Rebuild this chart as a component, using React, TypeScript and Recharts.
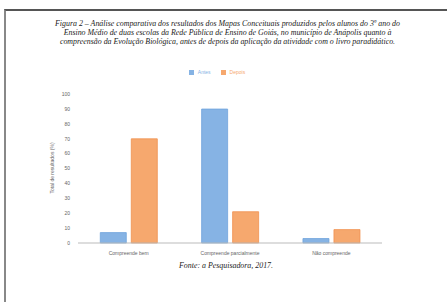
import React from 'react';
import { BarChart, Bar, XAxis, YAxis, Legend } from 'recharts';

const categories = ['Compreende bem', 'Compreende parcialmente', 'Não compreende'];
const antes = [7, 90, 3];
const depois = [70, 21, 9];
const yTicks = [0, 10, 20, 30, 40, 50, 60, 70, 80, 90, 100];
const titleLines = [
  'Figura 2 – Análise comparativa dos resultados dos Mapas Conceituais produzidos pelos alunos do 3º ano do',
  'Ensino Médio de duas escolas da Rede Pública de Ensino de Goiás, no município de Anápolis quanto à',
  'compreensão da Evolução Biológica, antes de depois da aplicação da atividade com o livro paradidático.',
];
const sourceText = 'Fonte: a Pesquisadora, 2017.';
const yLabel = 'Total de resultados (%)';

const data = categories.map((c, i) => ({ name: c, Antes: antes[i], Depois: depois[i] }));

export default function App() {
  return (
    <div style={{ position: 'fixed', left: 0, top: 0, width: 447, height: 302, background: '#fff', overflow: 'hidden' }}>
      <div style={{ position: 'absolute', left: 4, top: 9, width: 441, height: 300, borderTop: '2px solid #555', borderLeft: '2px solid #888', borderRight: '1px solid #ddd' }} />
      <div style={{ position: 'absolute', left: 0, top: 19, width: 455, textAlign: 'center', fontFamily: '"Liberation Serif", serif', fontStyle: 'italic', fontSize: 7.9, lineHeight: '9px', color: '#222' }}>
        {titleLines.map((l, i) => (<div key={i}>{l}</div>))}
      </div>
      <div style={{ position: 'absolute', left: 0, top: 0 }}>
        <BarChart width={447} height={302} data={data} margin={{ top: 88, right: 65, bottom: 40, left: 49 }} barCategoryGap="22%" barGap={5}>
          <XAxis dataKey="name" axisLine={{ stroke: '#bbb' }} tickLine={false} tick={{ fontSize: 5, fill: '#666', fontFamily: 'Liberation Sans, sans-serif' }} height={19} interval={0} />
          <YAxis domain={[0, 100]} ticks={yTicks} axisLine={false} tickLine={false} width={29} tick={{ fontSize: 5, fill: '#666', fontFamily: 'Liberation Sans, sans-serif' }} />
          <Legend verticalAlign="top" iconType="square" iconSize={5}
            wrapperStyle={{ position: 'absolute', top: 69, left: 187, width: 70, fontSize: 5, color: '#666', fontFamily: 'Liberation Sans, sans-serif', lineHeight: '6px' }} />
          <Bar dataKey="Antes" fill="#86B3E4" stroke="#6FA3DC" strokeWidth={0.8} isAnimationActive={false} />
          <Bar dataKey="Depois" fill="#F6A86E" stroke="#F0914F" strokeWidth={0.8} isAnimationActive={false} />
        </BarChart>
      </div>
      <div style={{ position: 'absolute', left: 52, top: 168, width: 0, height: 0 }}>
        <div style={{ position: 'absolute', transform: 'translate(-50%, -50%) rotate(-90deg)', whiteSpace: 'nowrap', fontSize: 5, color: '#666', fontFamily: 'Liberation Sans, sans-serif' }}>{yLabel}</div>
      </div>
      <div style={{ position: 'absolute', left: 0, top: 261, width: 452, textAlign: 'center', fontFamily: '"Liberation Serif", serif', fontStyle: 'italic', fontSize: 7.9, color: '#222' }}>{sourceText}</div>
    </div>
  );
}
